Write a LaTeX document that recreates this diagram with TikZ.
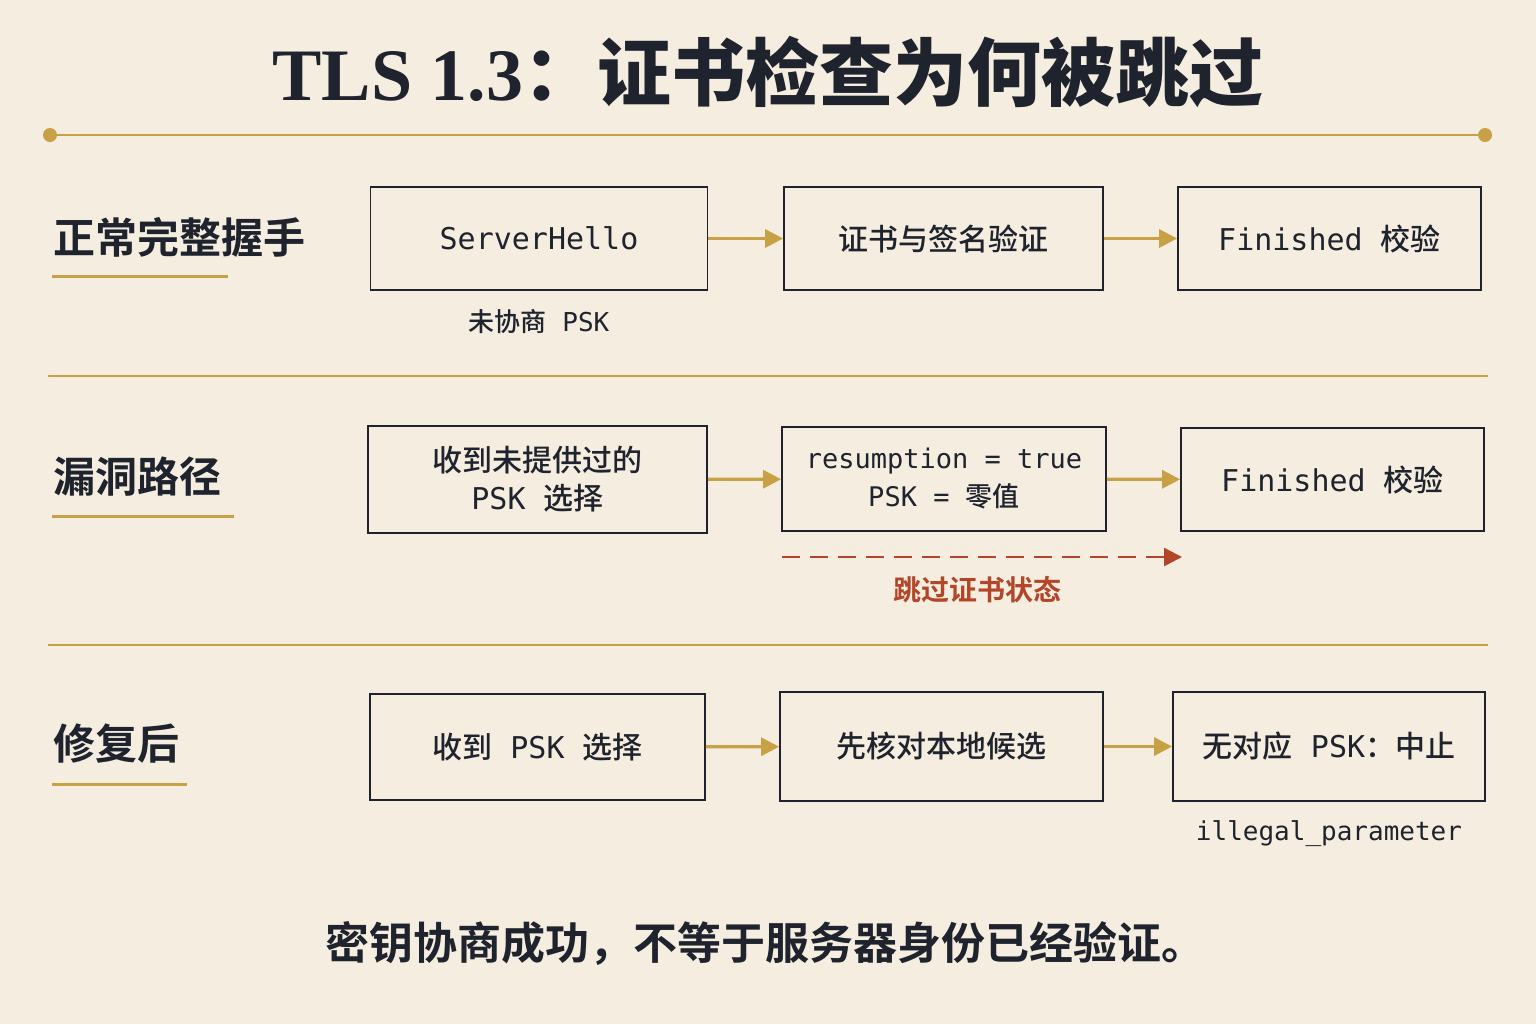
\documentclass[tikz,border=0pt]{standalone}
\usepackage{fontspec}
\setmainfont{Liberation Serif}
\setmonofont{DejaVu Sans Mono}
\newfontfamily\cjk{Noto Sans CJK SC Medium}
\newfontfamily\cjkb{Noto Sans CJK SC Bold}
\usetikzlibrary{arrows.meta, positioning}
\definecolor{paper}{RGB}{245,237,224}
\definecolor{gold}{RGB}{200,160,70}
\definecolor{rust}{RGB}{178,70,40}
\definecolor{ink}{RGB}{30,35,45}

\begin{document}
\begin{tikzpicture}[
    x=0.5pt, y=-0.5pt,
    stage/.style={draw=ink, line width=0.9pt, inner sep=0pt, font=\ttfamily\fontsize{15}{19}\selectfont, text=ink, align=center},
    rowlabel/.style={anchor=west, inner sep=0pt, font=\cjkb\fontsize{21}{24}\selectfont, text=ink},
    note/.style={inner sep=0pt, font=\ttfamily\fontsize{13}{16}\selectfont, text=ink},
    flow/.style={-{Triangle[length=9pt,width=9pt]}, gold, line width=1.6pt},
    sep/.style={gold, line width=0.8pt}
]
    \fill[paper] (0,0) rectangle (1536,1024);
    \useasboundingbox (0,0) rectangle (1536,1024);

    % title
    \node[inner sep=0pt, text=ink] (title) at (768,72) {\fontsize{37}{40}\selectfont\bfseries TLS 1.3\cjkb：证书检查为何被跳过};
    \coordinate (tl) at (50,135);
    \coordinate (tr) at (1485,135);
    \draw[sep, line width=1.2pt] (tl) -- (tr);
    \fill[gold] (tl) circle (7) (tr) circle (7);

    % normal handshake
    \node[rowlabel] (normal) at (53,237) {正常完整握手};
    \draw[gold, line width=1.5pt] (52,276) -- (228,276);
    \node[stage, minimum width=168.5pt, minimum height=51.5pt] (hello) at (539,238.5) {ServerHello};
    \node[stage, minimum width=159.5pt, minimum height=51.5pt] (cert) at (943.5,238.5) {\cjk 证书与签名验证};
    \node[stage, minimum width=151.5pt, minimum height=51.5pt] (fin1) at (1329.5,238.5) {Finished {\cjk 校验}};
    \node[note, below=9pt of hello] (nopsk) {{\cjk 未协商} PSK};
    \draw[flow] (hello) -- (cert);
    \draw[flow] (cert) -- (fin1);

    \draw[sep] (48,376) -- (1488,376);

    % vulnerable path
    \node[rowlabel] (vuln) at (53,477) {漏洞路径};
    \draw[gold, line width=1.5pt] (52,516) -- (234,516);
    \node[stage, minimum width=169.5pt, minimum height=53.5pt] (offer) at (537.5,479.5) {\cjk 收到未提供过的\\PSK {\cjk 选择}};
    \node[stage, minimum width=162pt, minimum height=52pt, font=\ttfamily\fontsize{13.5}{19}\selectfont] (resume) at (944,479) {resumption = true\\PSK = {\cjk 零值}};
    \node[stage, minimum width=151.5pt, minimum height=51.5pt] (fin2) at (1332.5,479.5) {Finished {\cjk 校验}};
    \draw[flow] (offer) -- (resume);
    \draw[flow] (resume) -- (fin2);
    \coordinate (skipa) at (782,557);
    \coordinate (skipb) at (1182,557);
    \draw[rust, line width=1.3pt, dash pattern=on 9pt off 5pt, -{Triangle[length=9pt,width=9pt]}] (skipa) -- (skipb);
    \node[inner sep=0pt, text=rust, font=\cjkb\fontsize{14}{16}\selectfont] (skip) at (977,590) {跳过证书状态};

    \draw[sep] (48,645) -- (1488,645);

    % after the fix
    \node[rowlabel] (fixed) at (53,744) {修复后};
    \draw[gold, line width=1.5pt] (52,784) -- (187,784);
    \node[stage, minimum width=167.5pt, minimum height=53pt] (recv) at (537.5,747) {{\cjk 收到} PSK {\cjk 选择}};
    \node[stage, minimum width=161.5pt, minimum height=54.5pt] (check) at (941.5,746.5) {\cjk 先核对本地候选};
    \node[stage, minimum width=156pt, minimum height=54.5pt] (abort) at (1329,746.5) {{\cjk 无对应} PSK{\cjk ：中止}};
    \node[note, below=9pt of abort] (illegal) {illegal\_parameter};
    \draw[flow] (recv) -- (check);
    \draw[flow] (check) -- (abort);

    % conclusion
    \node[inner sep=0pt, text=ink, font=\cjkb\fontsize{22}{26}\selectfont] (moral) at (765,944) {密钥协商成功，不等于服务器身份已经验证。};
\end{tikzpicture}
\end{document}
